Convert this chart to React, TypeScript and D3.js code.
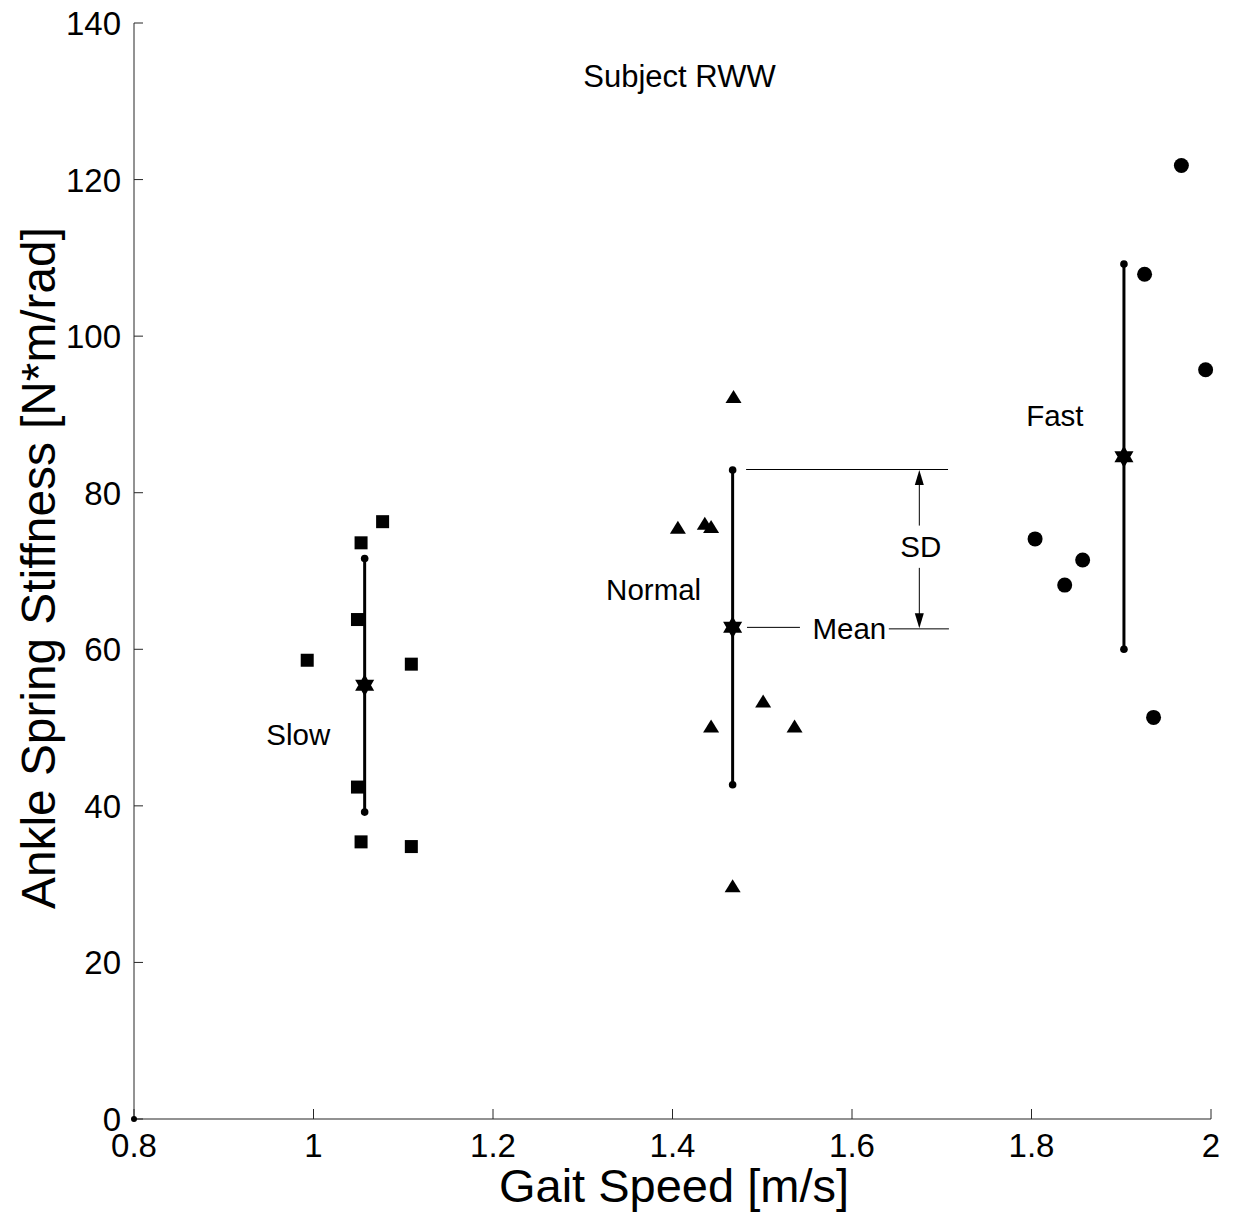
import React from "react";
import * as d3 from "d3";

// ---- data ----
const slowX = [0.993, 1.053, 1.077, 1.049, 1.109, 1.049, 1.053, 1.109];
const slowY = [58.6, 73.6, 76.3, 63.8, 58.1, 42.4, 35.4, 34.8];
const normalX = [1.468, 1.406, 1.436, 1.443, 1.443, 1.501, 1.536, 1.467];
const normalY = [92.3, 75.6, 76.1, 75.7, 50.2, 53.4, 50.2, 29.8];
const fastX = [1.967, 1.926, 1.994, 1.804, 1.857, 1.837, 1.936];
const fastY = [121.8, 107.9, 95.7, 74.1, 71.4, 68.2, 51.3];

const groupNames = ["Slow", "Normal", "Fast"];
const groupMeanX = [1.057, 1.467, 1.903];
const groupMeanY = [55.4, 62.8, 84.6];
const groupSD = [16.2, 20.1, 24.6];
const groupLabelX = [0.983, 1.379, 1.826];
const groupLabelY = [47.8, 66.3, 88.5];

const xTicks = [0.8, 1, 1.2, 1.4, 1.6, 1.8, 2];
const yTicks = [0, 20, 40, 60, 80, 100, 120, 140];

// annotation (data units)
const sdLineX = [1.482, 1.707];
const meanLeftX = [1.483, 1.542];
const meanRightX = [1.641, 1.708];
const meanTextX = 1.597;
const arrowX = 1.675;
const sdTextY = 73.2;
const sdGapTop = 75.8;
const sdGapBottom = 70.4;

const W = 1238;
const H = 1220;
const FONT = "'Liberation Sans', Arial, Helvetica, sans-serif";

const x = d3.scaleLinear().domain([0.8, 2]).range([134, 1211]);
const y = d3.scaleLinear().domain([0, 140]).range([1119, 23]);

function hexagram(cx: number, cy: number, r: number) {
  const tri = (off: number) =>
    d3.range(3).map((i) => {
      const a = off + (i * 2 * Math.PI) / 3;
      return [cx + r * Math.sin(a), cy - r * Math.cos(a)];
    });
  const p = (pts: number[][]) => "M" + pts.map((q) => q.join(",")).join("L") + "Z";
  return p(tri(0)) + p(tri(Math.PI));
}

function triangle(cx: number, cy: number, w: number, h: number) {
  return `M${cx},${cy - h / 2}L${cx + w / 2},${cy + h / 2}L${cx - w / 2},${cy + h / 2}Z`;
}

export default function App() {
  const axisColor = "#262626";
  const sdTop = groupMeanY[1] + groupSD[1];
  const meanN = groupMeanY[1];
  return (
    <svg
      width={W}
      height={H}
      style={{ position: "absolute", left: 0, top: 0, background: "#fff" }}
      fontFamily={FONT}
    >
      <rect x={0} y={0} width={W} height={H} fill="#fff" />
      {/* axes */}
      <line x1={x(0.8)} x2={x(0.8)} y1={y(0)} y2={y(140)} stroke={axisColor} strokeWidth={1} />
      <line x1={x(0.8)} x2={x(2)} y1={y(0)} y2={y(0)} stroke={axisColor} strokeWidth={1.2} />
      {yTicks.map((t) => (
        <g key={"y" + t}>
          <line x1={x(0.8)} x2={x(0.8) + 9} y1={y(t)} y2={y(t)} stroke={axisColor} strokeWidth={1} />
          <text x={121} y={y(t) + 12} textAnchor="end" fontSize={33} fill="#000">
            {t}
          </text>
        </g>
      ))}
      {xTicks.map((t) => (
        <g key={"x" + t}>
          <line x1={x(t)} x2={x(t)} y1={y(0)} y2={y(0) - 10} stroke={axisColor} strokeWidth={1} />
          <text x={x(t)} y={1157} textAnchor="middle" fontSize={33} fill="#000">
            {String(t)}
          </text>
        </g>
      ))}
      <circle cx={x(0.8)} cy={y(0)} r={3} fill="#000" />
      {/* axis titles */}
      <text x={674} y={1202} textAnchor="middle" fontSize={47} fill="#000">
        Gait Speed [m/s]
      </text>
      <text
        transform={`translate(55,568) rotate(-90)`}
        textAnchor="middle"
        fontSize={47.8}
        fill="#000"
      >
        Ankle Spring Stiffness [N*m/rad]
      </text>
      <text x={679.5} y={87} textAnchor="middle" fontSize={31} fill="#000">
        Subject RWW
      </text>

      {/* error bars */}
      {groupMeanX.map((mx, i) => {
        const top = groupMeanY[i] + groupSD[i];
        const bot = groupMeanY[i] - groupSD[i];
        return (
          <g key={"eb" + i}>
            <line x1={x(mx)} x2={x(mx)} y1={y(top)} y2={y(bot)} stroke="#000" strokeWidth={3} />
            <circle cx={x(mx)} cy={y(top)} r={3.8} fill="#000" />
            <circle cx={x(mx)} cy={y(bot)} r={3.8} fill="#000" />
            <path d={hexagram(x(mx), y(groupMeanY[i]), 11)} fill="#000" />
            <text x={x(groupLabelX[i])} y={y(groupLabelY[i])} textAnchor="middle" fontSize={29.5} fill="#000">
              {groupNames[i]}
            </text>
          </g>
        );
      })}

      {/* points */}
      {slowX.map((v, i) => (
        <rect key={"s" + i} x={x(v) - 6.5} y={y(slowY[i]) - 6.5} width={13} height={13} fill="#000" />
      ))}
      {normalX.map((v, i) => (
        <path key={"n" + i} d={triangle(x(v), y(normalY[i]), 16, 13)} fill="#000" />
      ))}
      {fastX.map((v, i) => (
        <circle key={"f" + i} cx={x(v)} cy={y(fastY[i])} r={7.5} fill="#000" />
      ))}

      {/* SD / Mean annotation */}
      <line x1={x(sdLineX[0])} x2={x(sdLineX[1])} y1={y(sdTop) - 0.5} y2={y(sdTop) - 0.5} stroke="#000" strokeWidth={1} />
      <line x1={x(meanLeftX[0])} x2={x(meanLeftX[1])} y1={y(meanN)} y2={y(meanN)} stroke="#000" strokeWidth={1} />
      <line x1={x(meanRightX[0])} x2={x(meanRightX[1])} y1={y(meanN) + 1.5} y2={y(meanN) + 1.5} stroke="#000" strokeWidth={1} />
      <text x={x(meanTextX)} y={y(meanN) + 11.5} textAnchor="middle" fontSize={29.5} fill="#000">
        Mean
      </text>
      <line x1={x(arrowX)} x2={x(arrowX)} y1={y(sdTop) + 10} y2={y(sdGapTop)} stroke="#000" strokeWidth={1} />
      <path
        d={`M${x(arrowX)},${y(sdTop)}L${x(arrowX) + 4.5},${y(sdTop) + 15}L${x(arrowX) - 4.5},${y(sdTop) + 15}Z`}
        fill="#000"
      />
      <line x1={x(arrowX)} x2={x(arrowX)} y1={y(sdGapBottom)} y2={y(meanN) - 10} stroke="#000" strokeWidth={1} />
      <path
        d={`M${x(arrowX)},${y(meanN) + 1}L${x(arrowX) + 4.5},${y(meanN) - 14}L${x(arrowX) - 4.5},${y(meanN) - 14}Z`}
        fill="#000"
      />
      <text x={x(arrowX) + 1.5} y={y(sdTextY) + 11} textAnchor="middle" fontSize={29.5} fill="#000">
        SD
      </text>
    </svg>
  );
}
